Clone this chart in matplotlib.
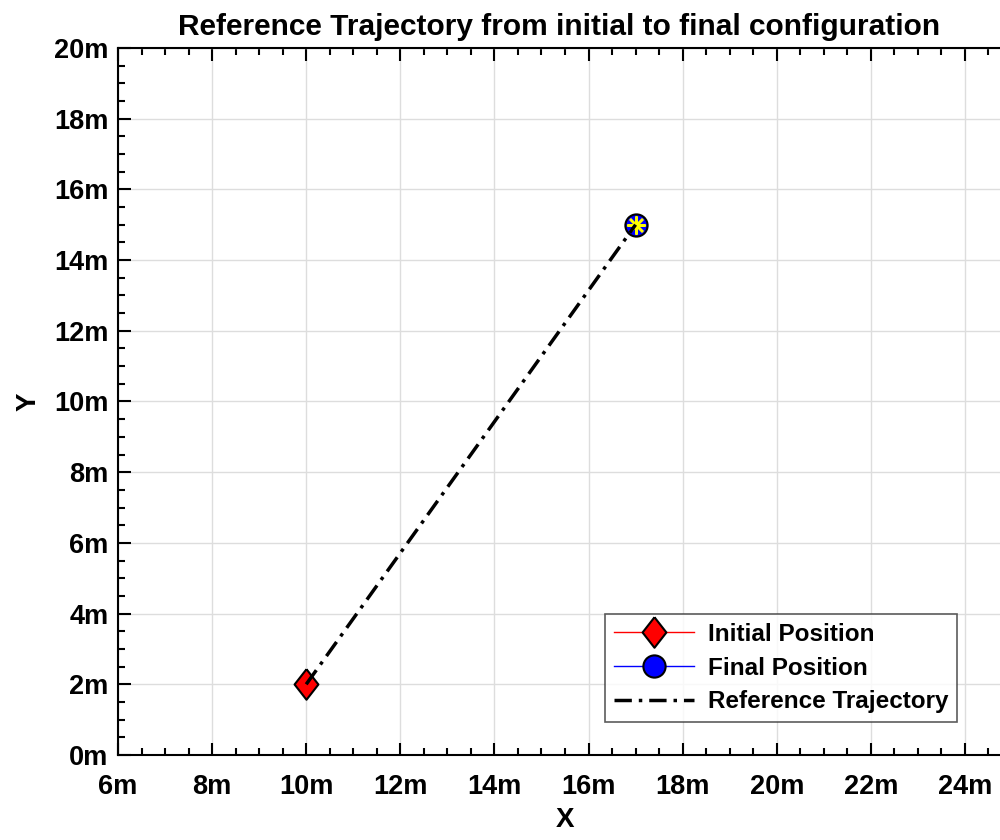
import numpy as np
import matplotlib.pyplot as plt
from matplotlib.ticker import MultipleLocator, FuncFormatter

plt.rcParams['font.family'] = ['Liberation Sans', 'DejaVu Sans']
plt.rcParams['font.weight'] = 'bold'

# start / goal of the reference path (metres)
x_start, y_start = 10.0, 2.0
x_goal, y_goal = 17.0, 15.0

x_ref = [x_start, x_goal]
y_ref = [y_start, y_goal]

# tall diamond like the classic "d" marker
tall_diamond = [(0, 1), (0.78, 0), (0, -1), (-0.78, 0), (0, 1)]

fig = plt.figure(figsize=(10, 8.4), dpi=100)
# axes run slightly past the right edge of the figure
ax = fig.add_axes([0.118, 0.1012, 0.894, 0.8417])

ax.plot(x_start, y_start, color='red', lw=1, marker=tall_diamond, markersize=22,
        markerfacecolor='red', markeredgecolor='black', markeredgewidth=1.5,
        label='Initial Position', zorder=3)
ax.plot(x_goal, y_goal, color='blue', lw=1, marker='o', markersize=16,
        markerfacecolor='blue', markeredgecolor='black', markeredgewidth=1.5,
        label='Final Position', zorder=3)
ax.plot(x_goal, y_goal, linestyle='none', marker=(8, 2, 0), markersize=13,
        markeredgecolor='yellow', markeredgewidth=1.8, zorder=4)
ax.plot(x_ref, y_ref, color='black', lw=2.5, linestyle=(0, (5, 2, 1, 2)),
        label='Reference Trajectory', zorder=5)

ax.set_xlim(6, 25)
ax.set_ylim(0, 20)
ax.xaxis.set_major_locator(MultipleLocator(2))
ax.yaxis.set_major_locator(MultipleLocator(2))
ax.xaxis.set_minor_locator(MultipleLocator(0.5))
ax.yaxis.set_minor_locator(MultipleLocator(0.5))
fmt = FuncFormatter(lambda v, p: f"{v:.0f}m")
ax.xaxis.set_major_formatter(fmt)
ax.yaxis.set_major_formatter(fmt)

ax.tick_params(which='both', direction='in', top=True, right=True,
               labelsize=19.5, width=1.5)
ax.tick_params(which='major', length=9)
ax.tick_params(which='minor', length=5)
ax.tick_params(axis='x', which='major', pad=13.5)
ax.tick_params(axis='y', which='major', pad=7)
for s in ax.spines.values():
    s.set_linewidth(1.5)

ax.grid(True, which='major', color='#dddddd', lw=1)
ax.set_axisbelow(True)

ax.set_xlabel('X', fontsize=20, fontweight='bold', labelpad=5)
ax.set_ylabel('Y', fontsize=20, fontweight='bold', labelpad=9)
ax.set_title('Reference Trajectory from initial to final configuration',
             fontsize=21.5, fontweight='bold', x=(559 - 118) / 894, pad=9.5)

leg = ax.legend(loc='lower left', bbox_to_anchor=((605 - 118) / 894, 33 / 707),
                borderaxespad=0, handlelength=3.3, frameon=True, fancybox=False,
                borderpad=0.35, labelspacing=0.45, handletextpad=0.6,
                prop={'weight': 'bold', 'size': 17.5})
leg.get_frame().set_edgecolor('#333333')
leg.get_frame().set_linewidth(1.2)

fig.savefig('out.png', dpi=100)
